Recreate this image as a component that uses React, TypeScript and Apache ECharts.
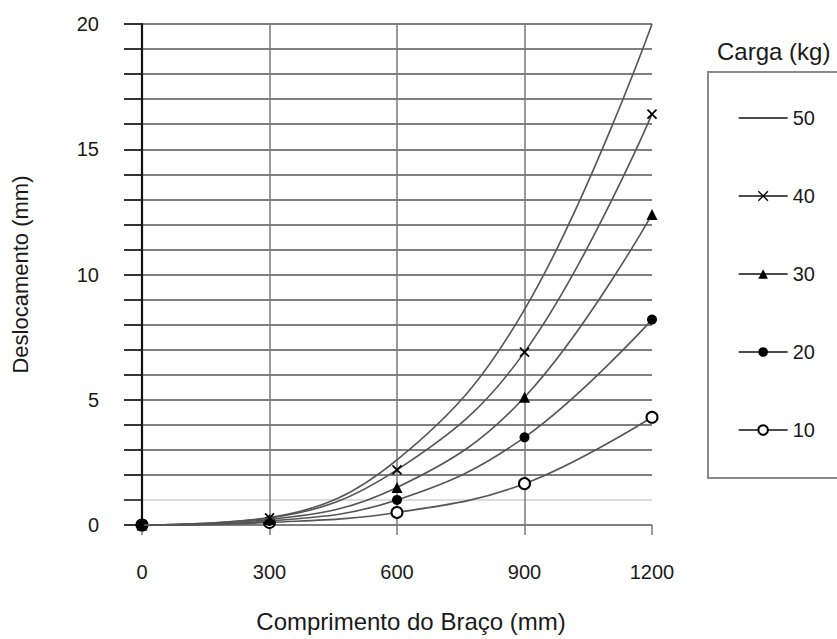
import React, { useEffect, useRef } from "react";
import * as echarts from "echarts";

const armLength = [0, 300, 600, 900, 1200];
const load50 = [0, 0.3, 2.6, 8.6, 20];
const load40 = [0, 0.28, 2.2, 6.9, 16.4];
const load30 = [0, 0.22, 1.5, 5.1, 12.4];
const load20 = [0, 0.16, 1.0, 3.5, 8.2];
const load10 = [0, 0.1, 0.5, 1.65, 4.3];
const seriesNames = ["50", "40", "30", "20", "10"];
const xTicks = [0, 300, 600, 900, 1200];

const FONT = "'Liberation Sans', Arial, sans-serif";
const TXT = "#1a1a1a";

export default function App() {
  const ref = useRef<HTMLDivElement>(null);
  useEffect(() => {
    document.body.style.margin = "0";
    const chart = echarts.init(ref.current!, null, { renderer: "svg" });
    const pair = (ys: number[]) => armLength.map((x, i) => [x, ys[i]]);
    const gridColors = Array.from({ length: 21 }, (_, i) => (i === 1 ? "#cfcfcf" : "#555"));
    const lineCommon = {
      type: "line" as const,
      xAxisIndex: 1,
      yAxisIndex: 1,
      smooth: 0.4,
      clip: false,
      lineStyle: { color: "#555", width: 1.6 },
      emphasis: { disabled: true },
    };
    chart.setOption({
      animation: false,
      textStyle: { fontFamily: FONT, color: TXT },
      title: {
        text: "Carga (kg)",
        left: 712,
        top: 34,
        textStyle: { fontFamily: FONT, fontSize: 24, fontWeight: "normal", color: TXT },
      },
      legend: {
        orient: "vertical",
        left: 708,
        top: 72,
        padding: [36, 60, 38, 30],
        itemWidth: 49,
        itemHeight: 12,
        itemGap: 58,
        itemTextGap: 8,
        borderColor: "#8a8a8a",
        borderWidth: 2,
        textStyle: { fontFamily: FONT, fontSize: 20, color: TXT },
        lineStyle: { color: "#111", width: 1.3 },
        data: [
          { name: seriesNames[0], itemStyle: { opacity: 0 } },
          { name: seriesNames[1], itemStyle: { borderColor: "#000", borderWidth: 1.3 } },
          seriesNames[2],
          seriesNames[3],
          seriesNames[4],
        ],
        selectedMode: false,
      },
      grid: [
        { left: 124, top: 24, width: 528, height: 501 },
        { left: 142, top: 24, width: 510, height: 501 },
      ],
      xAxis: [
        { gridIndex: 0, type: "value", min: 0, max: 1, show: false },
        {
          gridIndex: 1,
          type: "value",
          min: 0,
          max: 1200,
          interval: 300,
          axisLine: { show: false },
          axisTick: { show: true, length: 10, lineStyle: { color: "#777", width: 1.5 } },
          splitLine: {
            show: true,
            showMinLine: false,
            showMaxLine: false,
            lineStyle: { color: "#7a7a7a", width: 1.5 },
          },
          axisLabel: {
            margin: 37,
            fontSize: 20,
            color: TXT,
            fontFamily: FONT,
            customValues: xTicks,
            formatter: (v: number) => String(v),
          },
          name: "Comprimento do Braço (mm)",
          nameLocation: "middle",
          nameGap: 84,
          nameTextStyle: { fontSize: 24, color: TXT, fontFamily: FONT, padding: [0, 0, 0, 28] },
        },
      ],
      yAxis: [
        {
          gridIndex: 0,
          type: "value",
          min: 0,
          max: 20,
          interval: 1,
          axisLine: { show: false },
          axisTick: { show: false },
          axisLabel: { show: false },
          splitLine: { show: true, lineStyle: { color: gridColors, width: 1.5 } },
        },
        {
          gridIndex: 1,
          type: "value",
          min: 0,
          max: 20,
          interval: 5,
          axisLine: { show: true, lineStyle: { color: "#111", width: 2.2 } },
          axisTick: { show: true, length: 18, lineStyle: { color: "#222", width: 1.6 } },
          minorTick: { show: true, splitNumber: 5, length: 18, lineStyle: { color: "#222", width: 1.6 } },
          splitLine: { show: false },
          axisLabel: { margin: 43, fontSize: 20, color: TXT, fontFamily: FONT },
          name: "Deslocamento (mm)",
          nameLocation: "middle",
          nameGap: 111,
          nameTextStyle: { fontSize: 22, color: TXT, fontFamily: FONT },
        },
      ],
      series: [
        { ...lineCommon, name: seriesNames[0], data: pair(load50), symbol: "none", itemStyle: { color: "#000" }, z: 2 },
        {
          ...lineCommon,
          name: seriesNames[4],
          data: pair(load10),
          symbol: "emptyCircle",
          symbolSize: 11,
          itemStyle: { color: "#000", borderWidth: 1.8 },
          z: 2,
        },
        {
          ...lineCommon,
          name: seriesNames[3],
          data: pair(load20),
          symbol: "circle",
          symbolSize: 10,
          itemStyle: { color: "#000" },
          z: 3,
        },
        {
          ...lineCommon,
          name: seriesNames[2],
          data: pair(load30),
          symbol: "triangle",
          symbolSize: 11,
          itemStyle: { color: "#000" },
          z: 4,
        },
        {
          ...lineCommon,
          name: seriesNames[1],
          data: pair(load40),
          symbol: "path://M0,0L10,10M0,10L10,0",
          symbolSize: 9,
          itemStyle: { color: "#000", borderColor: "#000", borderWidth: 1.8 },
          z: 5,
        },
      ],
    });
    return () => chart.dispose();
  }, []);
  return <div ref={ref} style={{ width: 837, height: 639 }} />;
}
